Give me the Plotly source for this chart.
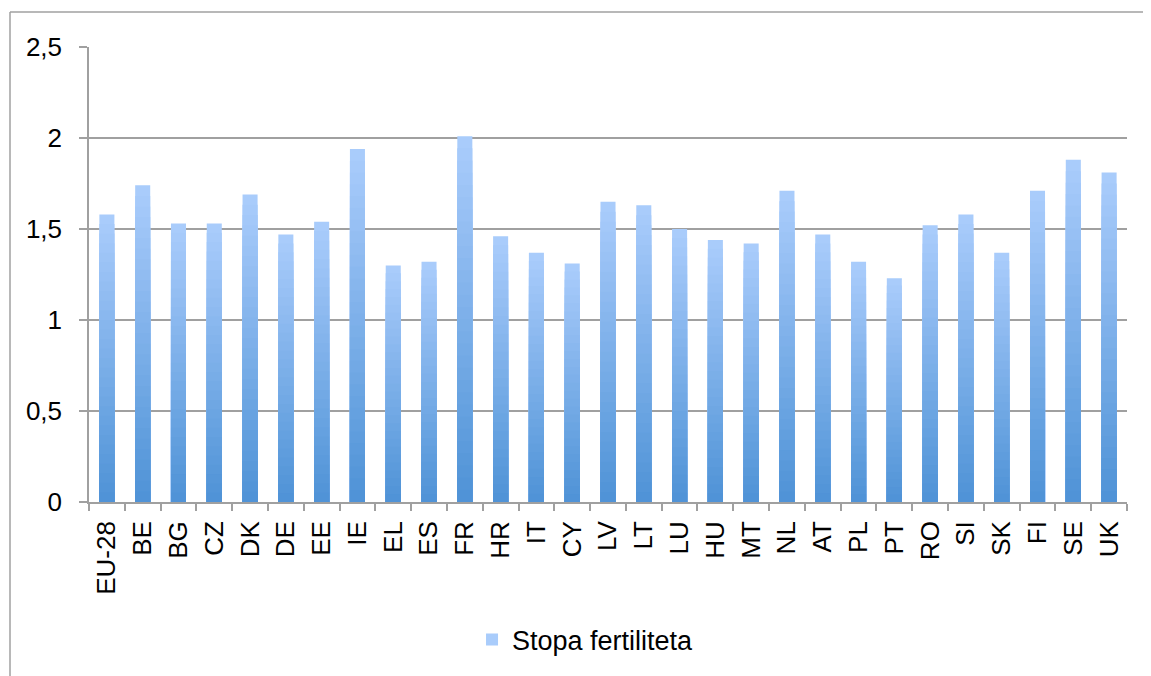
import plotly.graph_objects as go

countries = ["EU-28", "BE", "BG", "CZ", "DK", "DE", "EE", "IE", "EL", "ES", "FR", "HR", "IT", "CY",
             "LV", "LT", "LU", "HU", "MT", "NL", "AT", "PL", "PT", "RO", "SI", "SK", "FI", "SE", "UK"]
fertility = [1.58, 1.74, 1.53, 1.53, 1.69, 1.47, 1.54, 1.94, 1.30, 1.32, 2.01, 1.46, 1.37, 1.31,
             1.65, 1.63, 1.50, 1.44, 1.42, 1.71, 1.47, 1.32, 1.23, 1.52, 1.58, 1.37, 1.71, 1.88, 1.81]
series_name = "Stopa fertiliteta"
y_ticks = [0, 0.5, 1, 1.5, 2, 2.5]

FONT = "Liberation Sans, Arial, sans-serif"
TOP = (171, 205, 252)
BOT = (78, 146, 214)
N = 30

fig = go.Figure()
for k in range(N):
    frac = 1 - k / N
    t = (k + 0.5) / N
    c = tuple(round(TOP[i] + (BOT[i] - TOP[i]) * t) for i in range(3))
    fig.add_trace(go.Bar(
        x=countries,
        y=[v * frac for v in fertility],
        name=series_name,
        showlegend=(k == 0),
        marker=dict(color="rgb(%d,%d,%d)" % c, line=dict(width=0)),
        hoverinfo="skip" if k else None,
    ))

bx0 = (10 - 89) / 1038
by1 = (502 - 12) / 455
border = dict(color="#a0a0a0", width=1.5)

fig.update_layout(
    width=1143, height=668,
    barmode="overlay",
    bargap=0.58,
    separators=", ",
    paper_bgcolor="white",
    plot_bgcolor="white",
    margin=dict(l=81, r=24, t=39, b=174),
    font=dict(family=FONT, size=26, color="black"),
    showlegend=True,
    legend=dict(orientation="h", x=0.369, xanchor="left", y=-0.303, yanchor="middle",
                font=dict(size=27), itemwidth=30),
    xaxis=dict(
        type="category", tickangle=-90, ticks="outside", tickson="boundaries",
        ticklen=7, tickcolor="#a0a0a0", tickwidth=1.5,
        showline=True, linecolor="#a0a0a0", linewidth=1.5,
        showgrid=False, tickfont=dict(size=26), ticklabelstandoff=7,
    ),
    yaxis=dict(
        range=[0, 2.5], tickvals=y_ticks, ticks="outside", ticklen=8,
        tickcolor="#a0a0a0", tickwidth=1.5,
        showline=True, linecolor="#a0a0a0", linewidth=1.5,
        showgrid=True, gridcolor="#a0a0a0", gridwidth=1.5,
        zeroline=False, tickfont=dict(size=26), ticklabelstandoff=12,
    ),
    shapes=[
        dict(type="line", xref="paper", yref="paper", x0=bx0, x1=bx0, y0=-0.5, y1=by1, line=border),
        dict(type="line", xref="paper", yref="paper", x0=bx0, x1=1.3, y0=by1, y1=by1, line=border),
    ],
)

fig.write_html("out.html")
